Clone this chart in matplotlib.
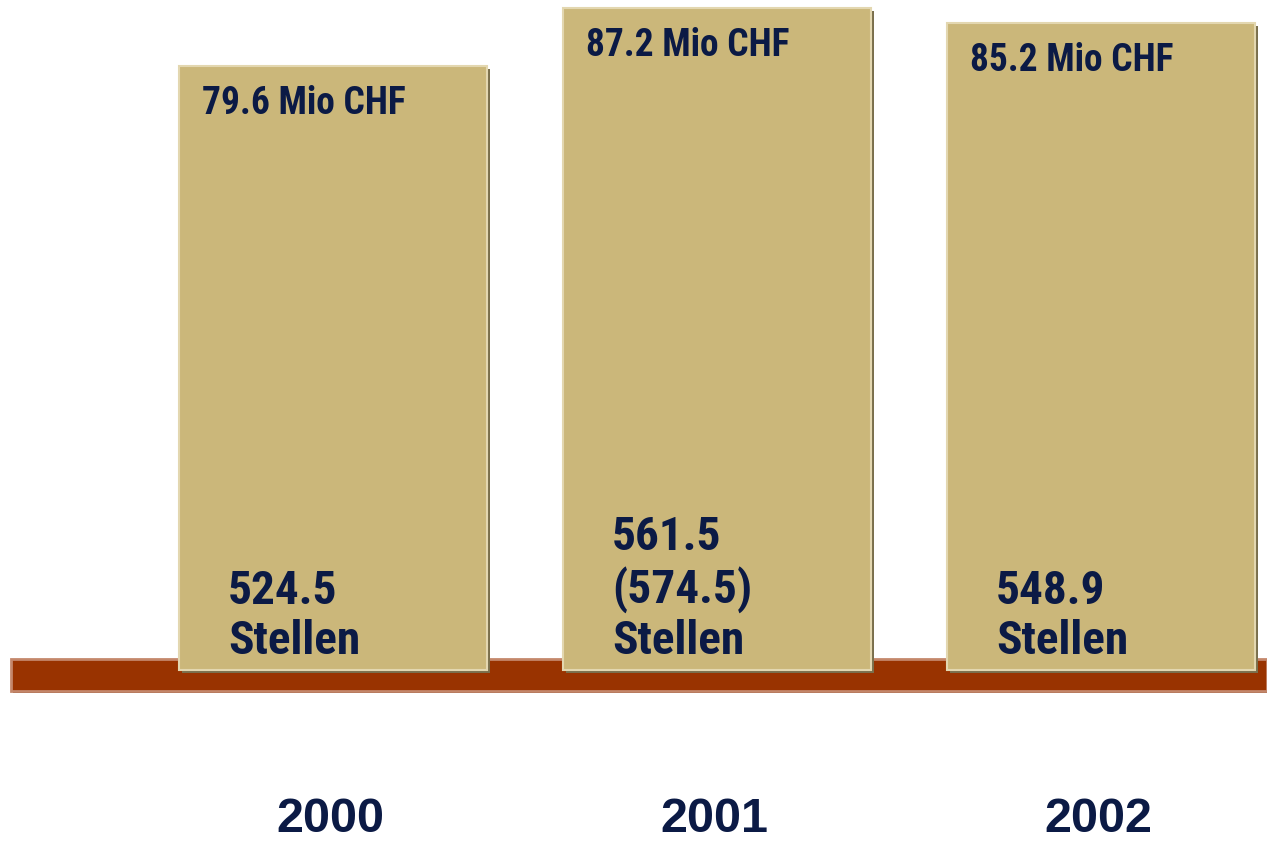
import matplotlib
matplotlib.use("Agg")
import matplotlib.pyplot as plt
import matplotlib.patheffects as pe

years = ["2000", "2001", "2002"]
budget_mio_chf = [79.6, 87.2, 85.2]
stellen = ["524.5", "561.5\n(574.5)", "548.9"]

BAR = "#cbb77a"
BAR_LIGHT = "#e3d7b0"
BAR_DARK = "#7a6f4c"
BASE = "#993300"
BASE_LIGHT = "#c4876b"
BASE_DARK = "#5a1a00"
NAVY = "#0b1a45"

fig = plt.figure(figsize=(12.67, 8.41), dpi=100)
ax = fig.add_axes([0, 0, 1, 1])
ax.set_xlim(-333 / 384, (1267 - 333) / 384)
ax.set_ylim(-171 / 7.59, 670 / 7.59)
ax.axis("off")

# brown floor strip
floor = ax.axhspan(-21 / 7.59, 11 / 7.59, xmin=11 / 1267, xmax=1.0,
                   facecolor=BASE, edgecolor=BASE_LIGHT, linewidth=2, zorder=1)
floor.set_path_effects([pe.SimplePatchShadow(offset=(1.5, -1.5), shadow_rgbFace=BASE_DARK, alpha=1),
                        pe.Normal()])

x = range(len(years))
bars = ax.bar(x, budget_mio_chf, width=0.8, color=BAR, edgecolor=BAR_LIGHT,
              linewidth=1.5, zorder=2)
for b in bars:
    b.set_path_effects([pe.SimplePatchShadow(offset=(2.2, -2.2), shadow_rgbFace=BAR_DARK, alpha=1),
                        pe.Normal()])

narrow = ["Roboto Condensed", "Liberation Sans"]
for i, b in enumerate(bars):
    left = b.get_x()
    ax.annotate(f"{budget_mio_chf[i]} Mio CHF", xy=(left, budget_mio_chf[i]),
                xytext=(16, -27), textcoords="offset points", va="center", ha="left",
                fontsize=27, fontweight="bold", family=narrow, color=NAVY, zorder=3)
    ax.annotate(f"{stellen[i]}\nStellen", xy=(left, 0), xytext=(35, 5),
                textcoords="offset points", va="bottom", ha="left", linespacing=1.18,
                fontsize=34, fontweight="bold", family=narrow, color=NAVY, zorder=3)
    ax.annotate(years[i], xy=(i, 0), xytext=(-2, -117), textcoords="offset points",
                va="baseline", ha="center", fontsize=35, fontweight="bold",
                family=["Liberation Sans"], color=NAVY)

fig.savefig("out.png", dpi=100)
